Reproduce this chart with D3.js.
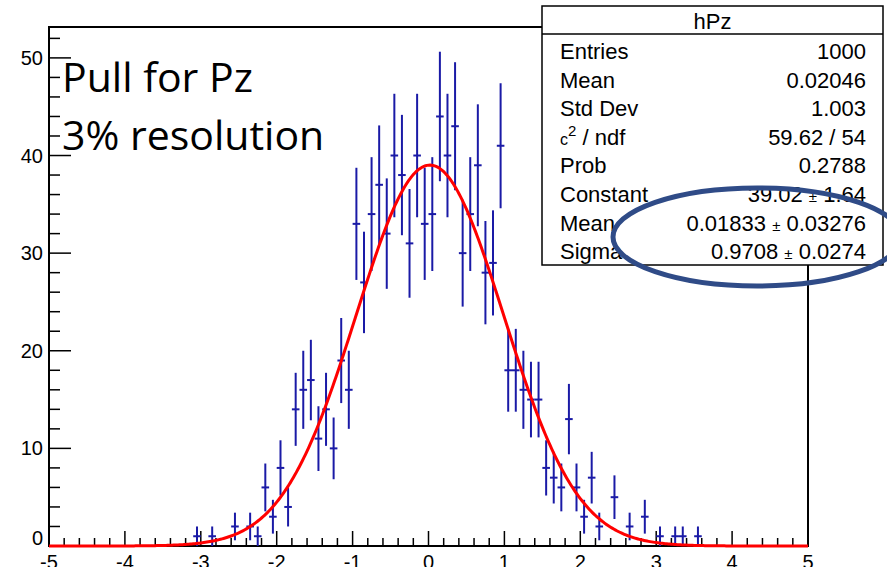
<!DOCTYPE html>
<html>
<head>
<meta charset="utf-8">
<script src="https://cdn.jsdelivr.net/npm/d3@7"></script>
<style>
  body { margin: 0; background: #fff; }
  svg { display: block; }
</style>
</head>
<body>
<div class="chart"></div>
<script>
// histogram hPz: 100 bins from -5 to 5
const xRange = [-5, 5];
const binWidth = 0.1;
const counts = [
  0, 0, 0, 0, 0, 0, 0, 0, 0, 0,
  0, 0, 0, 0, 0, 0, 0, 0, 0, 1,
  0, 1, 0, 0, 2, 0, 2, 1, 6, 3,
  8, 4, 14, 16, 17, 11, 14, 10, 19, 16,
  33, 27, 34, 37, 32, 40, 38, 31, 40, 33,
  34, 44, 40, 43, 30, 34, 39, 28, 29, 41,
  18, 18, 16, 15, 15, 8, 7, 6, 13, 6,
  3, 7, 2, 0, 5, 0, 2, 0, 3, 0,
  1, 0, 1, 1, 0, 1, 0, 0, 0, 0,
  0, 0, 0, 0, 0, 0, 0, 0, 0, 0
];

// gaussian fit parameters
const fitConstant = 39.02;
const fitMean = 0.01833;
const fitSigma = 0.9708;

// tick labels
const xTicks = [-5, -4, -3, -2, -1, 0, 1, 2, 3, 4, 5];
const yTicks = [0, 10, 20, 30, 40, 50];

// stats box
const statTitle = 'hPz';
const statLabels = ['Entries', 'Mean', 'Std Dev', 'chi2', 'Prob', 'Constant', 'Mean', 'Sigma'];
const statValues = ['1000', '0.02046', '1.003', '59.62 / 54', '0.2788', '39.02 \u00b1 1.64', '0.01833 \u00b1 0.03276', '0.9708 \u00b1 0.0274'];

const titleLines = ['Pull for Pz', '3% resolution'];

const width = 887, height = 567;
const frame = {left: 49, right: 808, top: 27, bottom: 546};

const svg = d3.select('.chart').append('svg').attr('width', width).attr('height', height);

const x = d3.scaleLinear().domain(xRange).range([frame.left, frame.right]);
// ROOT puts the top at 1.05 * (max + error)
const maxTop = d3.max(counts, d => d + Math.sqrt(d)) * 1.05;
const y = d3.scaleLinear().domain([0, maxTop]).range([frame.bottom, frame.top]);

// frame
svg.append('rect')
  .attr('x', frame.left).attr('y', frame.top)
  .attr('width', frame.right - frame.left).attr('height', frame.bottom - frame.top)
  .attr('fill', 'none').attr('stroke', '#000').attr('stroke-width', 2);

// x axis ticks (major 1, minor 0.2)
const xAxis = svg.append('g');
xAxis.selectAll('line')
  .data(d3.range(-5, 5.001, 0.2))
  .join('line')
  .attr('x1', d => x(d)).attr('x2', d => x(d))
  .attr('y1', frame.bottom).attr('y2', d => Math.abs(d - Math.round(d)) < 1e-6 ? frame.bottom - 15 : frame.bottom - 8)
  .attr('stroke', '#000').attr('stroke-width', 1.5);
xAxis.selectAll('text')
  .data(xTicks)
  .join('text')
  .attr('x', d => x(d)).attr('y', 569)
  .attr('text-anchor', 'middle')
  .attr('font-family', 'Liberation Sans, Arial, sans-serif')
  .attr('font-size', 20)
  .text(d => d);

// y axis ticks (major 10, minor 2)
const yAxis = svg.append('g');
yAxis.selectAll('line')
  .data(d3.range(0, 53, 2))
  .join('line')
  .attr('y1', d => y(d)).attr('y2', d => y(d))
  .attr('x1', frame.left).attr('x2', d => d % 10 === 0 ? frame.left + 22 : frame.left + 11)
  .attr('stroke', '#000').attr('stroke-width', 1.5);
yAxis.selectAll('text')
  .data(yTicks)
  .join('text')
  .attr('x', 43).attr('y', d => d === 0 ? y(d) - 1 : y(d) + 7)
  .attr('text-anchor', 'end')
  .attr('font-family', 'Liberation Sans, Arial, sans-serif')
  .attr('font-size', 20)
  .text(d => d);

// data points with error bars
const bins = counts.map((c, i) => ({x: xRange[0] + binWidth * (i + 0.5), c: c})).filter(d => d.c > 0);
const pts = svg.append('g').attr('stroke', '#1a1aa6').attr('stroke-width', 2);
pts.selectAll('line.err')
  .data(bins)
  .join('line')
  .attr('class', 'err')
  .attr('x1', d => x(d.x)).attr('x2', d => x(d.x))
  .attr('y1', d => y(d.c - Math.sqrt(d.c))).attr('y2', d => y(d.c + Math.sqrt(d.c)));
pts.selectAll('line.bin')
  .data(bins)
  .join('line')
  .attr('class', 'bin')
  .attr('x1', d => x(d.x - binWidth / 2)).attr('x2', d => x(d.x + binWidth / 2))
  .attr('y1', d => y(d.c)).attr('y2', d => y(d.c));

// fitted gaussian
const gauss = t => fitConstant * Math.exp(-0.5 * Math.pow((t - fitMean) / fitSigma, 2));
const line = d3.line().x(d => x(d)).y(d => y(gauss(d)));
svg.append('path')
  .datum(d3.range(-5, 5.0001, 0.02))
  .attr('d', line)
  .attr('fill', 'none').attr('stroke', '#ff0000').attr('stroke-width', 3);

// big annotation text
svg.selectAll('text.title')
  .data(titleLines)
  .join('text')
  .attr('class', 'title')
  .attr('x', 62).attr('y', (d, i) => 92 + i * 58)
  .attr('font-family', 'Open Sans, Noto Sans, sans-serif')
  .attr('font-size', 41)
  .text(d => d);

// stats box
const box = {x: 542, y: 6, w: 341, h: 259, titleH: 28, rowH: 28.6};
const stats = svg.append('g').attr('font-family', 'Liberation Sans, Arial, sans-serif').attr('font-size', 22);
stats.append('rect')
  .attr('x', box.x).attr('y', box.y).attr('width', box.w).attr('height', box.h)
  .attr('fill', '#fff').attr('stroke', '#000').attr('stroke-width', 1.5);
stats.append('line')
  .attr('x1', box.x).attr('x2', box.x + box.w)
  .attr('y1', box.y + box.titleH).attr('y2', box.y + box.titleH)
  .attr('stroke', '#000').attr('stroke-width', 1.5);
stats.append('text')
  .attr('x', box.x + box.w / 2).attr('y', box.y + 23)
  .attr('text-anchor', 'middle')
  .text(statTitle);

statLabels.forEach((lab, i) => {
  const yy = 59 + i * box.rowH;
  const t = stats.append('text').attr('x', 560).attr('y', yy);
  if (lab === 'chi2') {
    t.append('tspan').attr('font-size', 16).text('c');
    t.append('tspan').attr('font-size', 15).attr('dy', -9).text('2');
    t.append('tspan').attr('dy', 9).text(' / ndf');
  } else {
    t.text(lab);
  }
  const v = statValues[i];
  const tv = stats.append('text').attr('x', 866).attr('y', yy).attr('text-anchor', 'end');
  if (v.includes('\u00b1')) {
    const parts = v.split(' \u00b1 ');
    tv.append('tspan').text(parts[0] + ' ');
    tv.append('tspan').attr('font-size', 15).text('\u00b1');
    tv.append('tspan').text(' ' + parts[1]);
  } else {
    tv.text(v);
  }
});

// hand drawn highlight ellipse
svg.append('ellipse')
  .attr('cx', 757).attr('cy', 237).attr('rx', 144).attr('ry', 49)
  .attr('fill', 'none').attr('stroke', '#2f4b87').attr('stroke-width', 5);
</script>
</body>
</html>
